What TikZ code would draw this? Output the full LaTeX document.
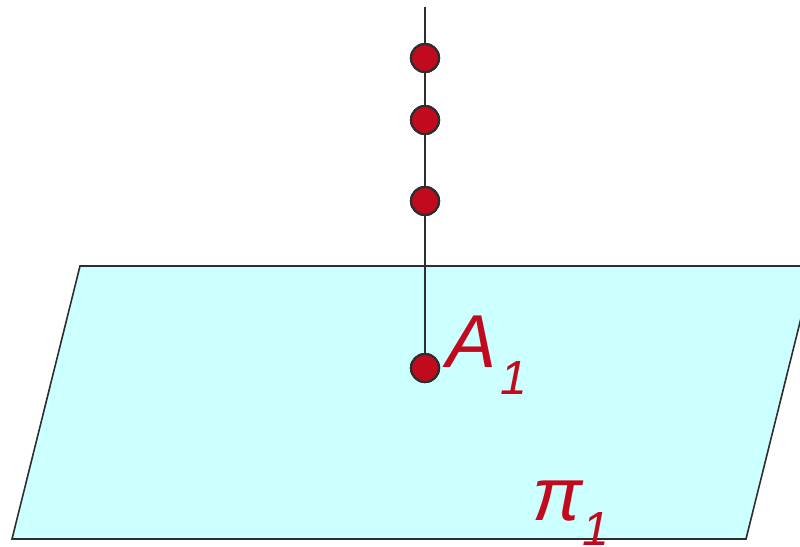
\documentclass[tikz,border=0pt]{standalone}
\usepackage{fontspec}
\setmainfont{Liberation Sans}
\definecolor{planefill}{HTML}{CCFFFF}
\definecolor{dotred}{HTML}{C20A1E}
\definecolor{edge}{HTML}{2E2E2E}
\begin{document}
\begin{tikzpicture}[x=1pt,y=-1pt,
  dot/.style={circle,fill=dotred,draw=edge,line width=2.2pt,minimum size=28pt,inner sep=0pt},
  biglabel/.style={text=dotred,inner sep=0pt,font=\fontsize{75}{75}\selectfont\itshape},
  sublabel/.style={text=dotred,inner sep=0pt,font=\fontsize{48}{48}\selectfont\itshape}]
\useasboundingbox (0,0) rectangle (800,546);
\clip (0,0) rectangle (800,546);
\coordinate (p1) at (80,266);
\coordinate (p2) at (814,266);
\coordinate (p3) at (746,539);
\coordinate (p4) at (12,539);
\draw[fill=planefill,draw=edge,line width=1.6pt] (p1) -- (p2) -- (p3) -- (p4) -- cycle;
\coordinate (top) at (425,7);
\node[dot] (d1) at (425,58) {};
\node[dot] (d2) at (425,120) {};
\node[dot] (d3) at (425,201) {};
\node[dot] (a1) at (425,368) {};
\draw[edge,line width=1.5pt] (top) -- (d1) -- (d2) -- (d3) -- (a1);
\node[dot] at (425,58) {};
\node[dot] at (425,120) {};
\node[dot] at (425,201) {};
\node[dot] at (425,368) {};
\node[biglabel,anchor=base west] (A) at (446,367) {A};
\node[sublabel,anchor=base west] (A1) at (500,394) {1};
\node[biglabel,anchor=base west] (pi) at (532,520) {π};
\node[sublabel,anchor=base west] (pi1) at (582,545) {1};
\end{tikzpicture}
\end{document}
